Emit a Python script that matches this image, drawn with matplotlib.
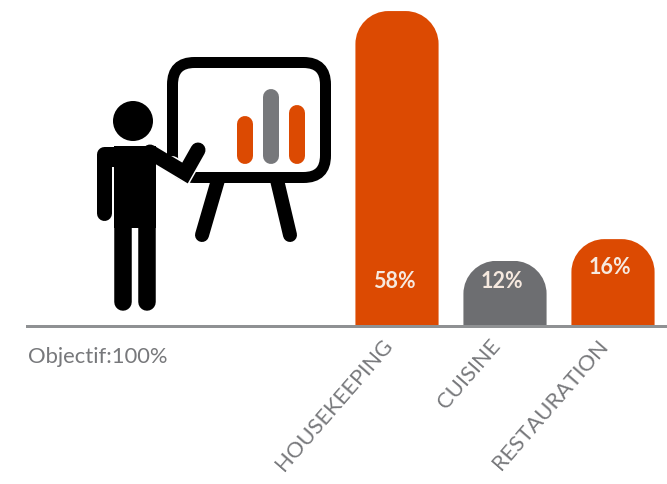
import matplotlib.pyplot as plt
from matplotlib.patches import Circle, FancyBboxPatch, PathPatch, Polygon
from matplotlib.path import Path
from matplotlib.transforms import ScaledTranslation

categories = ['HOUSEKEEPING', 'CUISINE', 'RESTAURATION']
values = [58, 12, 16]
value_labels = ['58%', '12%', '16%']
note = 'Objectif:100%'

ORANGE = '#dc4a02'
GREY = '#6d6e71'
AXIS_GREY = '#8f9193'
TEXT_GREY = '#77787b'

plt.rcParams['font.family'] = ['Lato', 'DejaVu Sans']

W, H = 667, 484
BASE = 326        # y of the baseline, in pixels from the top
PX_PER_PCT = 5.43
PX_PER_CAT = 108
FIRST_CAT = 397   # x of the first bar centre, in pixels
BAR_W = 0.77
RADIUS = 33       # corner radius of the bars, in pixels
K = 0.55          # bezier handle length for a quarter circle


def pts(px):
    """pixels to points at 100 dpi"""
    return px * 72 / 100


def top_rounded(x, width, height):
    """Outline of a bar with rounded top corners, in data units"""
    rx = RADIUS / PX_PER_CAT
    ry = RADIUS / PX_PER_PCT
    l, r = x - width / 2, x + width / 2
    verts = [(l, 0), (l, height - ry),
             (l, height - ry + K * ry), (l + rx - K * rx, height), (l + rx, height),
             (r - rx, height),
             (r - rx + K * rx, height), (r, height - ry + K * ry), (r, height - ry),
             (r, 0), (l, 0)]
    codes = [Path.MOVETO, Path.LINETO,
             Path.CURVE4, Path.CURVE4, Path.CURVE4,
             Path.LINETO,
             Path.CURVE4, Path.CURVE4, Path.CURVE4,
             Path.LINETO, Path.CLOSEPOLY]
    return Path(verts, codes)


fig = plt.figure(figsize=(W / 100, H / 100), dpi=100)

#main chart, baseline sits at the bottom of the axes
ax = fig.add_axes([0, (H - BASE) / H, 1, BASE / H])
ax.set_xlim(-FIRST_CAT / PX_PER_CAT, (W - FIRST_CAT) / PX_PER_CAT)
ax.set_ylim(0, BASE / PX_PER_PCT)
ax.patch.set_alpha(0)
for s in ['top', 'left', 'right']:
    ax.spines[s].set_visible(False)
ax.spines['bottom'].set_color(AXIS_GREY)
ax.spines['bottom'].set_linewidth(pts(3))
ax.spines['bottom'].set_bounds((27 - FIRST_CAT) / PX_PER_CAT, (W - FIRST_CAT) / PX_PER_CAT)
ax.set_yticks([])

positions = list(range(len(values)))
bars = ax.bar(positions, values, width=BAR_W, color=[ORANGE, GREY, ORANGE], zorder=1)
for pos, val, bar in zip(positions, values, bars):
    clip = PathPatch(top_rounded(pos, BAR_W, val), transform=ax.transData)
    bar.set_clip_path(clip)

ax.set_xticks(positions)
ax.set_xticklabels(categories, rotation=49, ha='right', va='top', rotation_mode='anchor',
                   fontsize=15.8, color=TEXT_GREY)
ax.tick_params(axis='x', length=0, pad=7)
#labels end a little left of the bar centres
shift = ScaledTranslation(pts(-16) / 72, 0, fig.dpi_scale_trans)
for lab in ax.get_xticklabels():
    lab.set_transform(lab.get_transform() + shift)

#value labels, the last one is raised into the bar head
label_heights = [45, 45, 59]
for pos, text, dy in zip(positions, value_labels, label_heights):
    ax.annotate(text, xy=(pos, 0), xytext=(-2, pts(dy)), textcoords='offset points',
                ha='center', va='center', fontsize=15.5, fontweight='bold',
                color='#f6e9df', zorder=3)

#overlay in pixel coordinates for the presenter icon and the note
ov = fig.add_axes([0, 0, 1, 1])
ov.set_xlim(0, W)
ov.set_ylim(H, 0)
ov.axis('off')
ov.patch.set_alpha(0)

ov.text(28, 357, note, fontsize=15.8, color=TEXT_GREY, ha='left', va='center')

#easel and board
for x0, x1 in [(218, 202), (277, 290)]:
    ov.plot([x0, x1], [180, 235], color='black', lw=pts(14), solid_capstyle='round')
board = FancyBboxPatch((172.5 + 22, 62.5 + 22), 153 - 44, 115 - 44,
                       boxstyle='round,pad=22,rounding_size=22',
                       fc='white', ec='black', lw=pts(11), zorder=2)
ov.add_patch(board)

#small bars on the board
for x, top, col in [(244.5, 124, ORANGE), (270.5, 97, '#77787b'), (296.5, 113, ORANGE)]:
    ov.plot([x, x], [top, 156], color=col, lw=pts(16), solid_capstyle='round', zorder=3)

#presenter: head, torso, hanging arm with shoulder, legs, pointing arm
ov.add_patch(Circle((133, 121), 20, fc='black', ec='none', zorder=4))
ov.plot([104, 104, 150], [213, 154, 154], color='black', lw=pts(15), solid_capstyle='round',
        solid_joinstyle='round', zorder=4)
ov.add_patch(Polygon([(114, 146), (156, 146), (156, 228), (114, 228)], fc='black', ec='none', zorder=4))
ov.add_patch(Polygon([(104, 150), (114, 150), (114, 167), (104, 167)], fc='black', ec='none', zorder=4))
ov.plot([123, 123], [215, 302], color='black', lw=pts(17.5), solid_capstyle='round', zorder=4)
ov.plot([147, 147], [215, 302], color='black', lw=pts(17.5), solid_capstyle='round', zorder=4)
ov.plot([172, 185, 198], [165, 173, 150], color='white', lw=pts(18), solid_capstyle='round',
        solid_joinstyle='miter', zorder=4)
ov.plot([150, 185, 198], [152, 173, 150], color='black', lw=pts(15), solid_capstyle='round',
        solid_joinstyle='miter', zorder=4)

fig.savefig('out.png', dpi=100)
